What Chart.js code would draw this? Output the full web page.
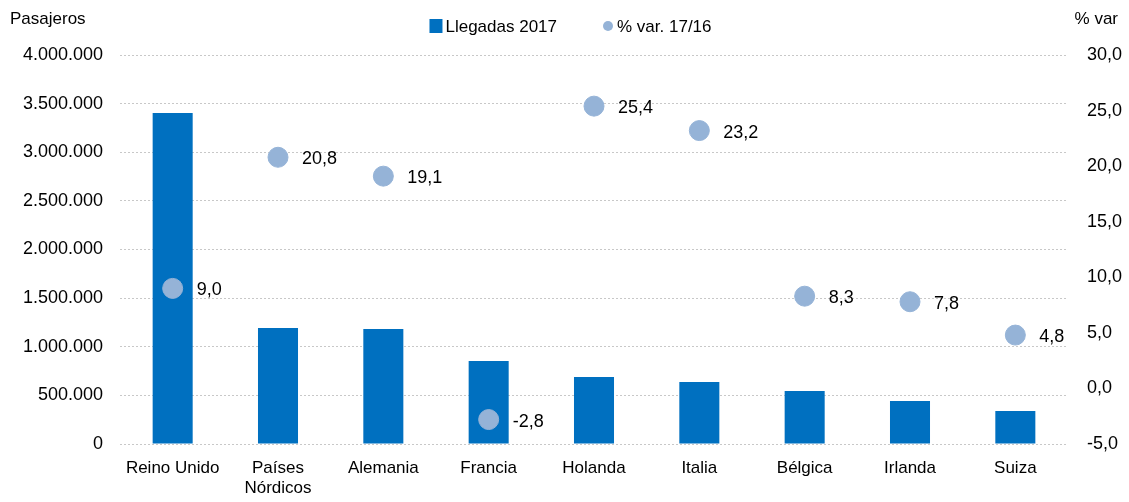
<!DOCTYPE html>
<html>
<head>
<meta charset="utf-8">
<script src="https://cdn.jsdelivr.net/npm/chart.js@4"></script>
<style>
  html, body { margin: 0; padding: 0; background: #fff; }
  #wrap { width: 1129px; height: 502px; }
</style>
</head>
<body>
<div id="wrap"><canvas id="arrivalsChart"></canvas></div>
<script>
const categories = ['Reino Unido', ['Países', 'Nórdicos'], 'Alemania', 'Francia', 'Holanda', 'Italia', 'Bélgica', 'Irlanda', 'Suiza'];
const arrivals2017 = [3403000, 1193000, 1182000, 853000, 689000, 637000, 545000, 442000, 339000];
const varPct = [9.0, 20.8, 19.1, -2.8, 25.4, 23.2, 8.3, 7.8, 4.8];

const FONT = '"Liberation Sans", Arial, sans-serif';
const BAR_COLOR = '#0070C0';
const DOT_COLOR = '#95B3D7';

function thousands(v) {
    return String(Math.round(v)).replace(/\B(?=(\d{3})+(?!\d))/g, '.');
}
function comma1(v) {
    return v.toFixed(1).replace('.', ',');
}

// point labels, legend and the two axis captions
const labelPlugin = {
    id: 'labelPlugin',
    afterDatasetsDraw(chart) {
        const ctx = chart.ctx;
        const meta = chart.getDatasetMeta(1);
        ctx.save();
        ctx.font = '18px ' + FONT;
        ctx.fillStyle = '#000';
        ctx.textAlign = 'left';
        ctx.textBaseline = 'middle';
        meta.data.forEach((pt, i) => {
            ctx.fillText(comma1(varPct[i]), pt.x + 24, pt.y + 2);
        });

        ctx.font = '17px ' + FONT;
        ctx.textBaseline = 'alphabetic';
        ctx.fillText('Pasajeros', 10, 24);
        ctx.textAlign = 'right';
        ctx.fillText('% var', 1118, 24);

        // legend
        const ds = chart.data.datasets;
        const w0 = ctx.measureText(ds[0].label).width;
        const w1 = ctx.measureText(ds[1].label).width;
        const total = 13 + 3 + w0 + 46 + 11 + 3 + w1;
        let x = chart.width / 2 - total / 2 + 6;
        const cy = 26;
        ctx.fillStyle = BAR_COLOR;
        ctx.fillRect(x, cy - 7, 13, 14);
        x += 16;
        ctx.fillStyle = '#000';
        ctx.textAlign = 'left';
        ctx.textBaseline = 'middle';
        ctx.fillText(ds[0].label, x, cy + 1);
        x += w0 + 46;
        ctx.fillStyle = DOT_COLOR;
        ctx.beginPath();
        ctx.arc(x + 5, cy, 5, 0, Math.PI * 2);
        ctx.fill();
        x += 14;
        ctx.fillStyle = '#000';
        ctx.fillText(ds[1].label, x, cy + 1);
        ctx.restore();
    }
};

new Chart(document.getElementById('arrivalsChart'), {
    data: {
        labels: categories,
        datasets: [{
            type: 'bar',
            label: 'Llegadas 2017',
            data: arrivals2017,
            backgroundColor: BAR_COLOR,
            yAxisID: 'y',
            categoryPercentage: 1,
            barPercentage: 0.38,
            order: 2
        }, {
            type: 'line',
            label: '% var. 17/16',
            data: varPct,
            showLine: false,
            pointRadius: 10,
            pointHoverRadius: 10,
            backgroundColor: DOT_COLOR,
            borderColor: DOT_COLOR,
            yAxisID: 'y1',
            order: 1
        }]
    },
    options: {
        responsive: true,
        maintainAspectRatio: false,
        animation: false,
        layout: { padding: { left: 0, right: 0, top: 55, bottom: 0 } },
        plugins: {
            tooltip: { enabled: false },
            legend: { display: false }
        },
        scales: {
            x: {
                grid: { display: false },
                border: { display: false },
                afterFit: s => { s.height = 58; },
                ticks: { color: '#000', padding: 6, font: { family: FONT, size: 17 }, maxRotation: 0, autoSkip: false }
            },
            y: {
                position: 'left',
                min: 0,
                max: 4000000,
                border: { display: false, dash: [2, 2] },
                grid: { color: '#c8c8c8', lineWidth: 1, drawTicks: false },
                afterFit: s => { s.width = 120; },
                ticks: {
                    stepSize: 500000,
                    color: '#000',
                    padding: 17,
                    font: { family: FONT, size: 18 },
                    callback: v => thousands(v)
                }
            },
            y1: {
                position: 'right',
                min: -5,
                max: 30,
                border: { display: false },
                grid: { display: false, drawTicks: false },
                afterFit: s => { s.width = 61; },
                ticks: {
                    stepSize: 5,
                    color: '#000',
                    padding: 19,
                    font: { family: FONT, size: 18 },
                    callback: v => comma1(v)
                }
            }
        }
    },
    plugins: [labelPlugin]
});
</script>
</body>
</html>
